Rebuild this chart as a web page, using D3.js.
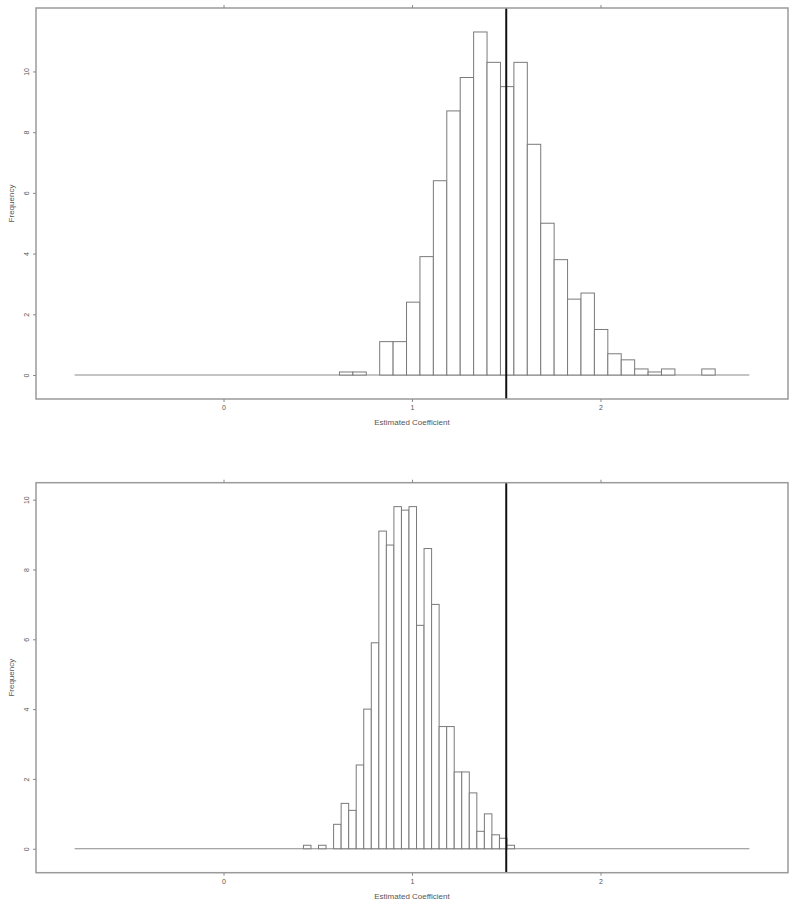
<!DOCTYPE html>
<html lang="en">
<head>
    <meta charset="UTF-8">
    <title>Estimated Coefficient Histograms</title>
    <script src="https://d3js.org/d3.v7.min.js"></script>
    <style>
        body {
            margin: 0;
            background: white;
            font-family: "Liberation Sans", Arial, sans-serif;
        }
        .frame { fill: none; stroke: #9a9a9a; stroke-width: 1.5; }
        .bar { fill: white; stroke: #7a7a7a; stroke-width: 1; }
        .baseline { stroke: #8a8a8a; stroke-width: 1.2; }
        .refline { stroke: #111; stroke-width: 2; }
        .tick line { stroke: #8a8a8a; }
        .tick text { font-size: 7px; }
        .axis-title { fill: #555; font-size: 8px; }
    </style>
</head>
<body>
    <div id="chart"></div>

    <script>
        // Percent of total per bin (28 equal-width bins each)
        const topPercent = [0.1, 0.1, 0, 1.1, 1.1, 2.4, 3.9, 6.4, 8.7, 9.8, 11.3, 10.3, 9.5, 10.3,
                            7.6, 5.0, 3.8, 2.5, 2.7, 1.5, 0.7, 0.5, 0.2, 0.1, 0.2, 0, 0, 0.2];
        const bottomPercent = [0.1, 0, 0.1, 0, 0.7, 1.3, 1.1, 2.4, 4.0, 5.9, 9.1, 8.7, 9.8, 9.7,
                               9.8, 6.4, 8.6, 7.0, 3.5, 3.5, 2.2, 2.2, 1.6, 0.5, 1.0, 0.4, 0.3, 0.1];
        const topBreaks = { start: 0.615, width: 0.0712 };
        const bottomBreaks = { start: 0.424, width: 0.04 };

        const xTicks = [0, 1, 2];
        const yTicks = [0, 2, 4, 6, 8, 10];
        const trueValue = 1.5;
        const baselineExtent = [-0.79, 2.79];
        const xDomain = [-0.995, 2.995];

        const width = 800, height = 908;
        const svg = d3.select('#chart').append('svg')
            .attr('width', width)
            .attr('height', height);

        const panels = [
            { values: topPercent, breaks: topBreaks, top: 8, bottom: 399, yDomain: [-0.79, 12.09] },
            { values: bottomPercent, breaks: bottomBreaks, top: 482.7, bottom: 872.7, yDomain: [-0.686, 10.486] }
        ];

        const left = 36, right = 788;
        const x = d3.scaleLinear().domain(xDomain).range([left, right]);
        const fmt = d3.format('d');

        panels.forEach(p => {
            const y = d3.scaleLinear().domain(p.yDomain).range([p.bottom, p.top]);
            const g = svg.append('g');

            // baseline at 0
            g.append('line')
                .attr('class', 'baseline')
                .attr('x1', x(baselineExtent[0])).attr('x2', x(baselineExtent[1]))
                .attr('y1', y(0)).attr('y2', y(0));

            // bars
            const bins = p.values.map((v, i) => ({
                x0: p.breaks.start + i * p.breaks.width,
                x1: p.breaks.start + (i + 1) * p.breaks.width,
                v: v
            })).filter(d => d.v > 0);

            g.selectAll('rect.bar')
                .data(bins)
                .join('rect')
                .attr('class', 'bar')
                .attr('x', d => x(d.x0))
                .attr('width', d => x(d.x1) - x(d.x0))
                .attr('y', d => y(d.v))
                .attr('height', d => y(0) - y(d.v));

            // reference line
            g.append('line')
                .attr('class', 'refline')
                .attr('x1', x(trueValue)).attr('x2', x(trueValue))
                .attr('y1', p.top).attr('y2', p.bottom);

            // frame
            g.append('rect')
                .attr('class', 'frame')
                .attr('x', left).attr('y', p.top)
                .attr('width', right - left).attr('height', p.bottom - p.top);

            // axes
            g.append('g')
                .attr('transform', `translate(0,${p.bottom})`)
                .call(d3.axisBottom(x).tickValues(xTicks).tickFormat(fmt).tickSize(3).tickPadding(3))
                .call(a => a.select('.domain').remove());

            g.append('g')
                .attr('transform', `translate(0,${p.top})`)
                .call(d3.axisTop(x).tickValues(xTicks).tickSize(3).tickFormat(''))
                .call(a => a.select('.domain').remove());

            const yAxis = g.append('g')
                .attr('transform', `translate(${left},0)`)
                .call(d3.axisLeft(y).tickValues(yTicks).tickFormat(fmt).tickSize(3).tickPadding(0))
                .call(a => a.select('.domain').remove());
            yAxis.selectAll('.tick text')
                .attr('x', -10)
                .attr('dy', 0)
                .attr('text-anchor', 'middle')
                .attr('transform', 'rotate(-90,-10,0)')
                .attr('y', 2.5);

            g.selectAll('.tick text').attr('fill', '#555');

            // titles
            g.append('text')
                .attr('class', 'axis-title')
                .attr('x', x(1))
                .attr('y', p.bottom + 26)
                .attr('text-anchor', 'middle')
                .text('Estimated Coefficient');

            g.append('text')
                .attr('class', 'axis-title')
                .attr('transform', `translate(14,${(p.top + p.bottom) / 2}) rotate(-90)`)
                .attr('text-anchor', 'middle')
                .text('Frequency');
        });
    </script>
</body>
</html>
